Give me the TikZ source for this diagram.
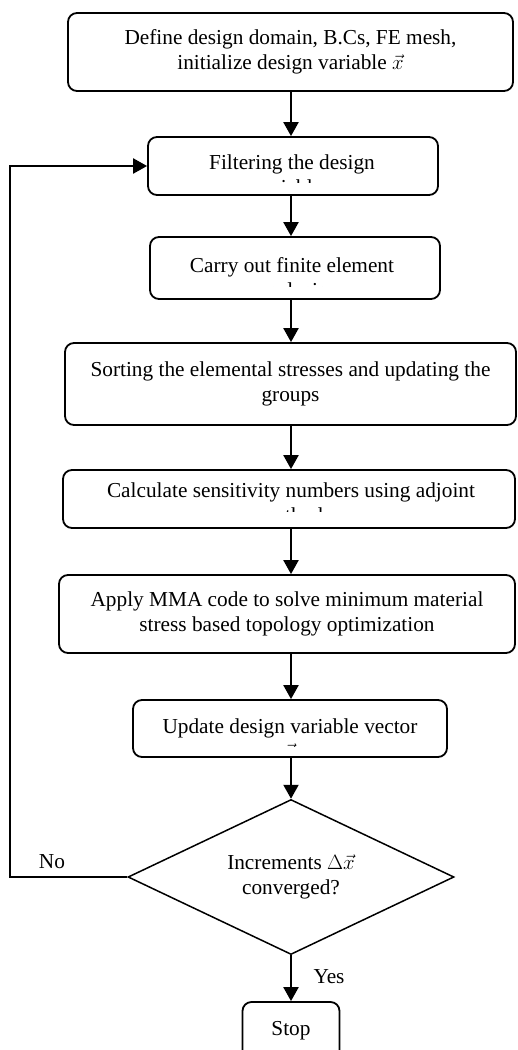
\documentclass[tikz,border=0pt]{standalone}
\usepackage{fontspec}
\setmainfont{Liberation Serif}
\usetikzlibrary{arrows.meta,shapes.geometric}
\begin{document}
\begin{tikzpicture}[x=1pt,y=-1pt,
  box/.style={draw,line width=1.8pt,rounded corners=9pt,inner sep=0pt,align=center,
    font=\fontsize{21.3}{25}\selectfont},
  txt/.style={font=\fontsize{21.3}{25}\selectfont,align=center,inner sep=0pt},
  arr/.style={line width=2.2pt,-{Triangle[length=14pt,width=15pt]}},
  lbl/.style={font=\fontsize{21.3}{25}\selectfont,inner sep=0pt}]
\clip (0,0) rectangle (517,1050);
\coordinate (col) at (291,0);
% boxes
\node[box,minimum width=445pt,minimum height=78pt] (b1) at (290.5,52)
  {Define design domain, B.Cs, FE mesh,\\ initialize design variable $\vec{x}$};
\node[box,minimum width=290pt,minimum height=58pt] (b2) at (293,166) {};
\begin{scope}
  \clip (148,137) rectangle (438,182.5);
  \node[txt] (t2) at (292,174.5) {Filtering the design\\ variables};
\end{scope}
\node[box,minimum width=290pt,minimum height=62pt] (b3) at (295,268) {};
\begin{scope}
  \clip (150,237) rectangle (440,286.5);
  \node[txt] (t3) at (292,279.5) {Carry out finite element\\ analysis};
\end{scope}
\node[box,minimum width=451pt,minimum height=82pt] (b4) at (290.5,384)
  {Sorting the elemental stresses and updating the\\ groups};
\node[box,minimum width=452pt,minimum height=58pt] (b5) at (289,499) {};
\begin{scope}
  \clip (63,470) rectangle (515,511.5);
  \node[txt] (t5) at (291,502.5) {Calculate sensitivity numbers using adjoint\\ method};
\end{scope}
\node[box,minimum width=456pt,minimum height=78pt] (b6) at (287,614)
  {Apply MMA code to solve minimum material\\ stress based topology optimization};
\node[box,minimum width=314pt,minimum height=57pt] (b7) at (290,728.5) {};
\begin{scope}
  \clip (133,700) rectangle (447,746);
  \node[txt] (t7) at (290,738.5) {Update design variable vector\\ $\vec{x}$};
\end{scope}
\node[draw,line width=1.5pt,diamond,shape aspect=2.1,minimum width=326pt,minimum height=155pt,
  inner sep=0pt,align=center,font=\fontsize{21.3}{25}\selectfont] (d) at (291,877)
  {Increments $\Delta\vec{x}$\\ converged?};
\node[box,minimum width=97pt,minimum height=58pt] (stop) at (291,1031) {Stop};
% connectors
\draw[arr] (b1.south -| col) -- (b2.north -| col);
\draw[arr] (b2.south -| col) -- (b3.north -| col);
\draw[arr] (b3.south -| col) -- (b4.north -| col);
\draw[arr] (b4.south -| col) -- (b5.north -| col);
\draw[arr] (b5.south -| col) -- (b6.north -| col);
\draw[arr] (b6.south -| col) -- (b7.north -| col);
\draw[arr] (b7.south -| col) -- (d.north);
\draw[arr] (d.south) -- (stop.north);
\coordinate (fb) at (10,877);
\draw[arr] (d.west) -- (fb) |- (b2.west);
\node[lbl] (no) at (52,862) {No};
\node[lbl] (yes) at (329,977) {Yes};
\end{tikzpicture}
\end{document}
